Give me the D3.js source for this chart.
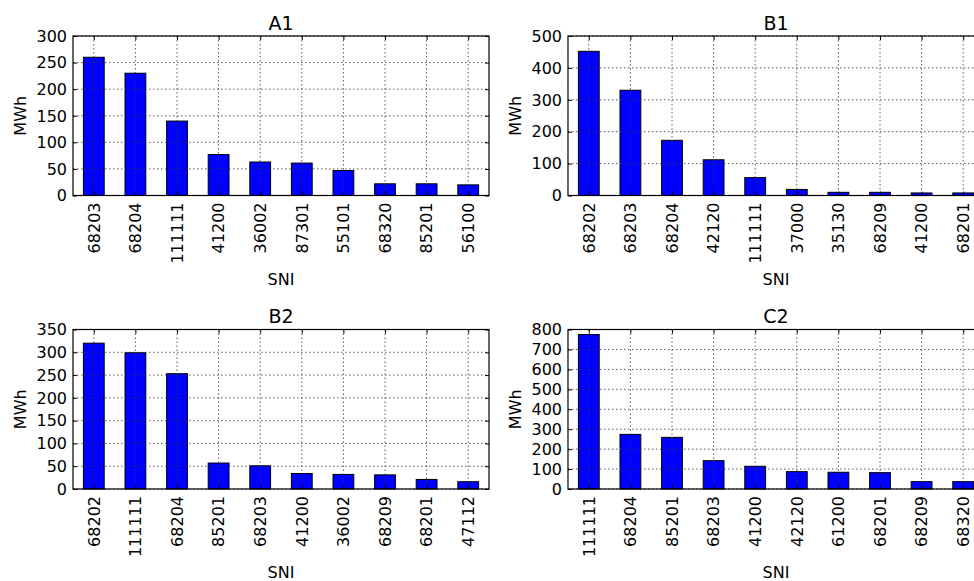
<!DOCTYPE html>
<html>
<head>
<meta charset="utf-8">
<script src="https://cdn.jsdelivr.net/npm/d3@7"></script>
<style>
  body { margin: 0; background: #fff; overflow: hidden; }
  svg text { font-family: "DejaVu Sans", sans-serif; fill: #000; }
</style>
</head>
<body>
<div id="chart"></div>
<script>
"use strict"

const a1Codes = ["68203", "68204", "111111", "41200", "36002", "87301", "55101", "68320", "85201", "56100"];
const a1Values = [260, 230, 140, 77, 63, 61, 47, 22, 22, 20];

const b1Codes = ["68202", "68203", "68204", "42120", "111111", "37000", "35130", "68209", "41200", "68201"];
const b1Values = [452, 330, 173, 112, 56, 19, 10, 10, 8, 8];

const b2Codes = ["68202", "111111", "68204", "85201", "68203", "41200", "36002", "68209", "68201", "47112"];
const b2Values = [320, 299, 253, 57, 51, 34, 32, 31, 21, 16];

const c2Codes = ["111111", "68204", "85201", "68203", "41200", "42120", "61200", "68201", "68209", "68320"];
const c2Values = [775, 274, 259, 142, 114, 87, 84, 82, 37, 37];

const a1Ticks = [0, 50, 100, 150, 200, 250, 300];
const b1Ticks = [0, 100, 200, 300, 400, 500];
const b2Ticks = [0, 50, 100, 150, 200, 250, 300, 350];
const c2Ticks = [0, 100, 200, 300, 400, 500, 600, 700, 800];

const panels = [
  {title: "A1", codes: a1Codes, values: a1Values, ticks: a1Ticks, left: 73, top: 36},
  {title: "B1", codes: b1Codes, values: b1Values, ticks: b1Ticks, left: 568, top: 36},
  {title: "B2", codes: b2Codes, values: b2Values, ticks: b2Ticks, left: 73, top: 329.5},
  {title: "C2", codes: c2Codes, values: c2Values, ticks: c2Ticks, left: 568, top: 329.5}
];

let plotW = 416,
    plotH = 159.5;

let svg = d3.select("#chart")
            .append("svg")
            .attr("width", 974)
            .attr("height", 581);

panels.forEach(p => drawPanel(p));

function drawPanel(p) {
  let g = svg.append("g")
             .attr("transform", "translate(" + p.left + "," + p.top + ")");

  // pandas-style bar positions: xlim -0.5 .. n-0.5, bar width 0.5
  let x = d3.scaleLinear()
            .domain([-0.5, p.codes.length - 0.5])
            .range([0, plotW]);
  let y = d3.scaleLinear()
            .domain([0, d3.max(p.ticks)])
            .range([plotH, 0]);

  g.selectAll(".bar")
    .data(p.values)
    .enter()
    .append("rect")
    .attr("class", "bar")
    .attr("x", (d, i) => x(i - 0.25))
    .attr("width", x(0.25) - x(-0.25))
    .attr("y", d => y(d))
    .attr("height", d => y(0) - y(d))
    .style("fill", "#0000ff")
    .style("stroke", "#000")
    .style("stroke-width", 1);

  // grid on top of bars
  let grid = g.append("g")
              .style("stroke", "#333")
              .style("stroke-width", 0.8)
              .style("stroke-dasharray", "1.5,2.5");
  grid.selectAll(".gx")
    .data(p.codes)
    .enter()
    .append("line")
    .attr("x1", (d, i) => x(i)).attr("x2", (d, i) => x(i))
    .attr("y1", 0).attr("y2", plotH);
  grid.selectAll(".gy")
    .data(p.ticks)
    .enter()
    .append("line")
    .attr("x1", 0).attr("x2", plotW)
    .attr("y1", d => y(d)).attr("y2", d => y(d));

  // inward ticks on all four sides
  let idx = d3.range(p.codes.length);
  g.append("g")
    .attr("transform", "translate(0," + plotH + ")")
    .call(d3.axisTop(x).tickValues(idx).tickSize(4).tickFormat(""))
    .call(a => a.select(".domain").remove());
  g.append("g")
    .call(d3.axisBottom(x).tickValues(idx).tickSize(4).tickFormat(""))
    .call(a => a.select(".domain").remove());
  g.append("g")
    .call(d3.axisRight(y).tickValues(p.ticks).tickSize(4).tickFormat(""))
    .call(a => a.select(".domain").remove());
  g.append("g")
    .attr("transform", "translate(" + plotW + ",0)")
    .call(d3.axisLeft(y).tickValues(p.ticks).tickSize(4).tickFormat(""))
    .call(a => a.select(".domain").remove());
  g.selectAll(".tick line").style("stroke", "#000");

  g.append("rect")
    .attr("width", plotW)
    .attr("height", plotH)
    .style("fill", "none")
    .style("stroke", "#000")
    .style("stroke-width", 1.2);

  // y tick labels
  g.selectAll(".ylab")
    .data(p.ticks)
    .enter()
    .append("text")
    .attr("x", -6)
    .attr("y", d => y(d))
    .attr("dy", "0.36em")
    .attr("text-anchor", "end")
    .style("font-size", "16px")
    .text(d => d);

  // x tick labels, rotated
  g.selectAll(".xlab")
    .data(p.codes)
    .enter()
    .append("text")
    .attr("transform", (d, i) => "translate(" + x(i) + "," + (plotH + 7) + ") rotate(-90)")
    .attr("text-anchor", "end")
    .attr("dy", "0.36em")
    .style("font-size", "16px")
    .text(d => d);

  g.append("text")
    .attr("x", plotW / 2)
    .attr("y", -6.5)
    .attr("text-anchor", "middle")
    .style("font-size", "19px")
    .text(p.title);

  g.append("text")
    .attr("x", plotW / 2)
    .attr("y", plotH + 89)
    .attr("text-anchor", "middle")
    .style("font-size", "16px")
    .text("SNI");

  g.append("text")
    .attr("transform", "translate(-47," + (plotH / 2) + ") rotate(-90)")
    .attr("text-anchor", "middle")
    .style("font-size", "16px")
    .text("MWh");
}
</script>
</body>
</html>
